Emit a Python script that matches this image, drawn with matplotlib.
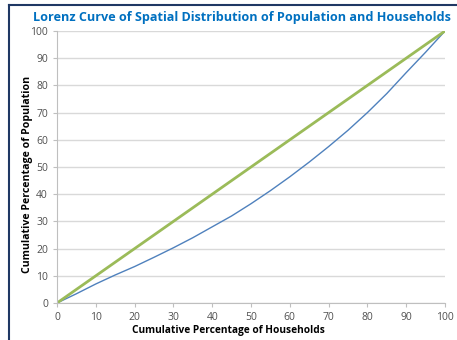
import matplotlib
matplotlib.use('Agg')
import matplotlib.pyplot as plt
from matplotlib.lines import Line2D

# 数据
households = [0, 5, 10, 15, 20, 25, 30, 35, 40, 45, 50, 55, 60, 65, 70, 75, 80, 85, 90, 95, 100]
population = [0, 3.4, 7.0, 10.3, 13.4, 16.8, 20.3, 24.0, 28.0, 32.0, 36.5, 41.3, 46.4, 51.8, 57.5, 63.5, 70.0, 77.0, 84.7, 92.2, 100]
equality_x = [0, 100]
equality_y = [0, 100]
ticks = list(range(0, 101, 10))

plt.rcParams['font.family'] = ['Open Sans', 'DejaVu Sans']

fig = plt.figure(figsize=(4.57, 3.40), dpi=100)
ax = fig.add_axes([57/457, 1-303/340, (445-57)/457, (303-31)/340])

ax.plot(households, population, color='#4F81BD', lw=1.0)
ax.plot(equality_x, equality_y, color='#9BBB59', lw=2.0)

ax.set_xlim(0, 100)
ax.set_ylim(0, 100)
ax.set_xticks(ticks)
ax.set_yticks(ticks)
ax.tick_params(labelsize=7.5, colors='#505050', length=3, width=0.8)
ax.tick_params(axis='both', color='#BFBFBF')
ax.grid(axis='y', color='#D9D9D9', lw=1.0)
ax.set_axisbelow(True)
for s in ['top', 'right']:
    ax.spines[s].set_visible(False)
for s in ['left', 'bottom']:
    ax.spines[s].set_color('#BFBFBF')

ax.set_xlabel('Cumulative Percentage of Households', fontsize=7.3, fontweight='bold')
ax.set_ylabel('Cumulative Percentage of Population', fontsize=7.6, fontweight='bold')
ax.xaxis.set_label_coords((228-57)/388, -(330-303)/272)
ax.yaxis.set_label_coords((28-57)/388, (303-174)/272)
ax.xaxis.label.set_va('center')
ax.yaxis.label.set_va('center')

fig.text(33/457, 1-17/340, 'Lorenz Curve of Spatial Distribution of Population and Households',
         color='#0070C0', fontsize=9.1, fontweight='bold', ha='left', va='center')

# 外框（截图边缘）
fig.add_artist(Line2D([9/457, 9/457], [0, 1-5/340], color='#1F3864', lw=1.5))
fig.add_artist(Line2D([9/457, 1], [1-5/340, 1-5/340], color='#1F3864', lw=1.5))

fig.savefig('out.png', dpi=100)
